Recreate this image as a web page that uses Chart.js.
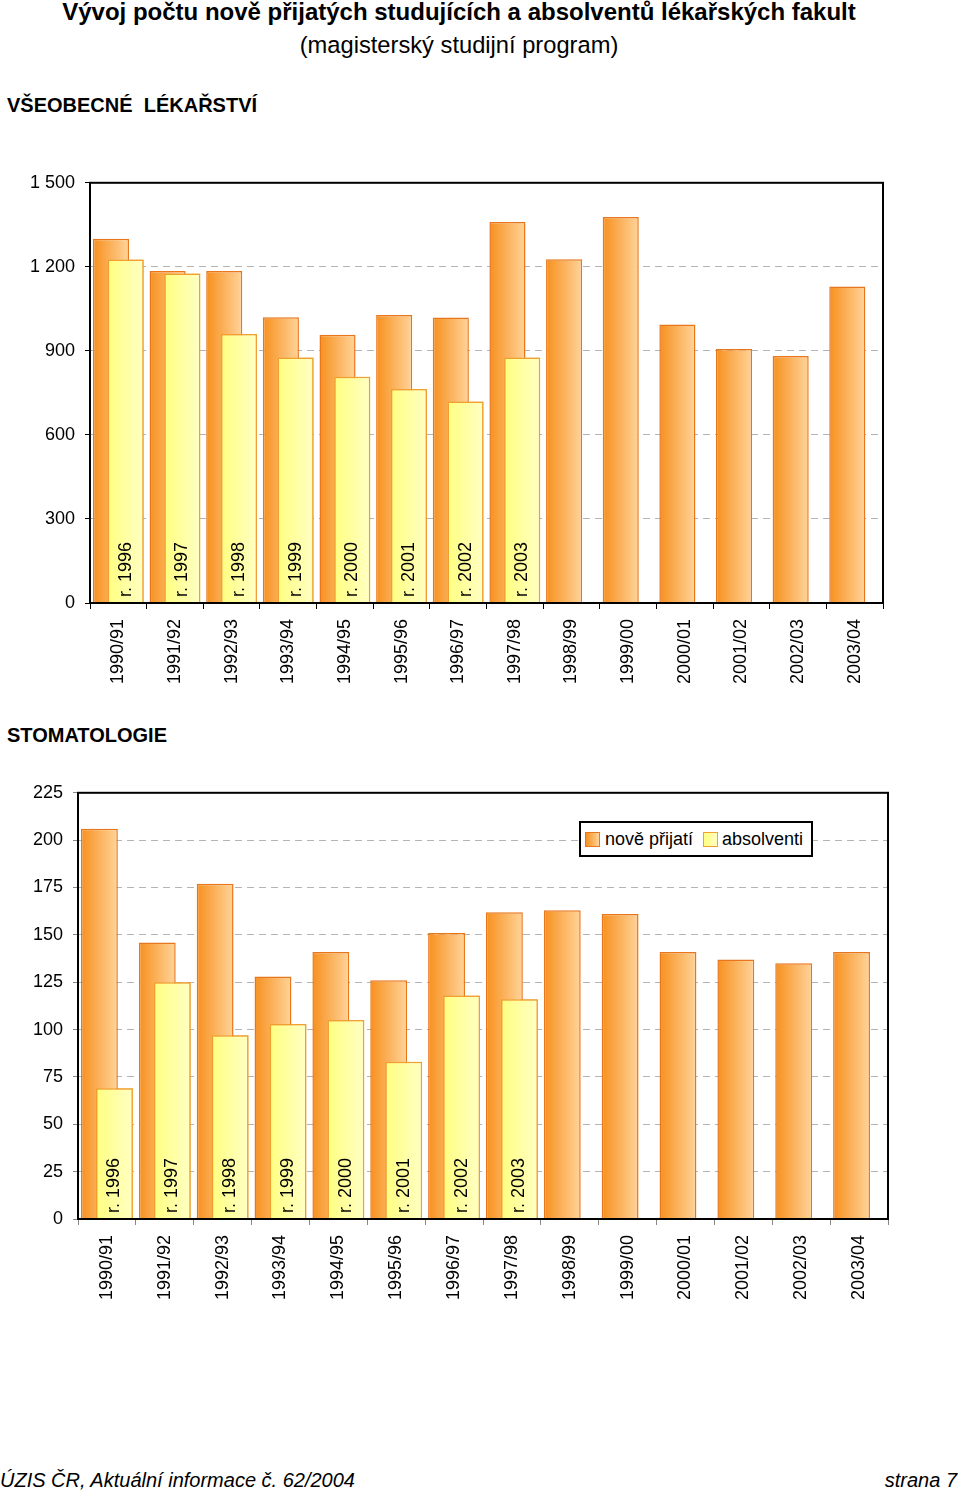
<!DOCTYPE html>
<html lang="cs">
<head>
<meta charset="utf-8">
<title>Vývoj počtu nově přijatých studujících a absolventů lékařských fakult</title>
<script src="https://cdn.jsdelivr.net/npm/chart.js@4.4.0/dist/chart.umd.min.js"></script>
<style>
  body { margin: 0; background: #fff; font-family: "Liberation Sans", Arial, sans-serif; color: #000; }
  #page { position: relative; width: 960px; height: 1493px; overflow: hidden; }
  .txt { position: absolute; white-space: pre; }
  #titulek { left: 0; width: 918px; top: 0; text-align: center; font-size: 24px; font-weight: bold; line-height: 24px; }
  #podtitulek { left: 0; width: 918px; top: 33px; text-align: center; font-size: 23.7px; line-height: 24px; }
  .sekce { left: 7px; font-size: 20px; font-weight: bold; line-height: 20px; }
  .pata { font-size: 20px; font-style: italic; line-height: 20px; top: 1470px; }
  canvas { position: absolute; left: 0; }
  #legenda { position: absolute; left: 579px; top: 821px; width: 230px; height: 32px; border: 2px solid #000; background: #fff;
             font-size: 18px; line-height: 32px; }
  #legenda span.box { position: absolute; top: 9px; width: 13px; height: 13px; border: 1px solid #e8761c; }
  #legenda span.lab { position: absolute; top: 0; }
</style>
</head>
<body>
<div id="page">
  <div id="titulek" class="txt">Vývoj počtu nově přijatých studujících a absolventů lékařských fakult</div>
  <div id="podtitulek" class="txt">(magisterský studijní program)</div>
  <div class="txt sekce" style="top:95px">VŠEOBECNÉ  LÉKAŘSTVÍ</div>
  <canvas id="graf1" width="960" height="538" style="top:162px"></canvas>
  <div class="txt sekce" style="top:725px">STOMATOLOGIE</div>
  <canvas id="graf2" width="960" height="548" style="top:772px"></canvas>
  <div id="legenda">
    <span class="box" style="left:4px;background:linear-gradient(90deg,#f7901e,#ffd49a)"></span>
    <span class="lab" style="left:24px">nově přijatí</span>
    <span class="box" style="left:122px;border-color:#f0a030;background:linear-gradient(90deg,#ffff80,#ffffc4)"></span>
    <span class="lab" style="left:141px">absolventi</span>
  </div>
  <div class="txt pata" style="left:0">ÚZIS ČR, Aktuální informace č. 62/2004</div>
  <div class="txt pata" style="right:3px">strana 7</div>
</div>

<script>
// školní roky (kategorie)
const roky = ["1990/91","1991/92","1992/93","1993/94","1994/95","1995/96","1996/97",
              "1997/98","1998/99","1999/00","2000/01","2001/02","2002/03","2003/04"];

// rok absolvování u sloupců absolventů
const rokAbsolvovani = ["r. 1996","r. 1997","r. 1998","r. 1999","r. 2000","r. 2001","r. 2002","r. 2003"];

// všeobecné lékařství
const vlPrijati = [1300, 1185, 1185, 1020, 958, 1028, 1019, 1360, 1227, 1378, 994, 907, 882, 1130];
const vlAbsolventi = [1226, 1176, 960, 876, 808, 764, 719, 876, null, null, null, null, null, null];

// stomatologie
const stPrijati = [206, 146, 177, 128, 141, 126, 151, 162, 163, 161, 141, 137, 135, 141];
const stAbsolventi = [69, 125, 97, 103, 105, 83, 118, 116, null, null, null, null, null, null];

const nazvySerii = ["nově přijatí", "absolventi"];

Chart.defaults.font.family = '"Liberation Sans", Arial, sans-serif';
Chart.defaults.font.size = 18;
Chart.defaults.color = "#000";

// přechod barvy ve sloupcích, absolventi překreslit navrch, popisky roků
const sloupcePlugin = {
  id: "sloupce",
  beforeDatasetsDraw(chart) {
    const ctx = chart.ctx;
    chart.data.datasets.forEach((ds, di) => {
      const meta = chart.getDatasetMeta(di);
      meta.data.forEach(el => {
        const p = el.getProps(["x", "width"], true);
        if (!isFinite(p.x) || !isFinite(p.width)) return;
        const g = ctx.createLinearGradient(p.x - p.width / 2, 0, p.x + p.width / 2, 0);
        g.addColorStop(0, ds.barvy[0]);
        g.addColorStop(1, ds.barvy[1]);
        el.options = Object.assign({}, el.options, { backgroundColor: g });
      });
    });
  },
  afterDatasetsDraw(chart) {
    const ctx = chart.ctx;
    const meta = chart.getDatasetMeta(1);
    meta.controller.draw();
    ctx.save();
    ctx.fillStyle = "#000";
    ctx.font = '18px "Liberation Sans", Arial, sans-serif';
    ctx.textAlign = "left";
    ctx.textBaseline = "middle";
    rokAbsolvovani.forEach((t, i) => {
      const el = meta.data[i];
      if (!el) return;
      ctx.save();
      ctx.translate(el.x, chart.chartArea.bottom - 6);
      ctx.rotate(-Math.PI / 2);
      ctx.fillText(t, 0, 0);
      ctx.restore();
    });
    ctx.restore();
  },
  afterDraw(chart) {
    const a = chart.chartArea;
    const ctx = chart.ctx;
    ctx.save();
    ctx.strokeStyle = "#000";
    ctx.lineWidth = 2;
    ctx.strokeRect(a.left, a.top, a.right - a.left, a.bottom - a.top);
    ctx.restore();
  }
};

function mezeraTisice(v) {
  return String(v).replace(/\B(?=(\d{3})+(?!\d))/g, " ");
}

function vytvorGraf(id, prijati, absolventi, maxY, krok, osaY, osaX, padding, barvaTicku) {
  return new Chart(document.getElementById(id), {
    type: "bar",
    data: {
      labels: roky,
      datasets: [
        {
          label: nazvySerii[0],
          data: prijati,
          barvy: ["#f7901e", "#ffd49a"],
          backgroundColor: "#f7a040",
          borderColor: "#e8761c",
          borderWidth: 1.5
        },
        {
          label: nazvySerii[1],
          data: absolventi,
          barvy: ["#ffff80", "#ffffc4"],
          backgroundColor: "#ffffaa",
          borderColor: "#f0a030",
          borderWidth: 1.5
        }
      ]
    },
    options: {
      responsive: false,
      animation: false,
      categoryPercentage: 0.52,
      barPercentage: 2.45,
      layout: { padding: padding },
      plugins: { legend: { display: false }, tooltip: { enabled: false } },
      scales: {
        x: {
          afterFit: s => { s.height = osaX; },
          grid: { drawOnChartArea: false, drawTicks: true, tickLength: 6, tickColor: barvaTicku },
          border: { display: true, color: "#000", width: 2 },
          ticks: { autoSkip: false, minRotation: 90, maxRotation: 90, padding: 10 }
        },
        y: {
          min: 0,
          max: maxY,
          afterFit: s => { s.width = osaY; },
          grid: { color: "#b4b4b4", lineWidth: 1, tickLength: 5, tickColor: barvaTicku },
          border: { display: true, color: "#000", width: 2, dash: [7, 5] },
          ticks: { stepSize: krok, padding: 10, callback: v => mezeraTisice(v) }
        }
      }
    },
    plugins: [sloupcePlugin]
  });
}

vytvorGraf("graf1", vlPrijati, vlAbsolventi, 1500, 300, 90, 97, { top: 4, right: 77, left: 0, bottom: 0 }, "#000");
vytvorGraf("graf2", stPrijati, stAbsolventi, 225, 25, 78, 101, { top: 4, right: 72, left: 0, bottom: 0 }, "#888");
</script>
</body>
</html>
